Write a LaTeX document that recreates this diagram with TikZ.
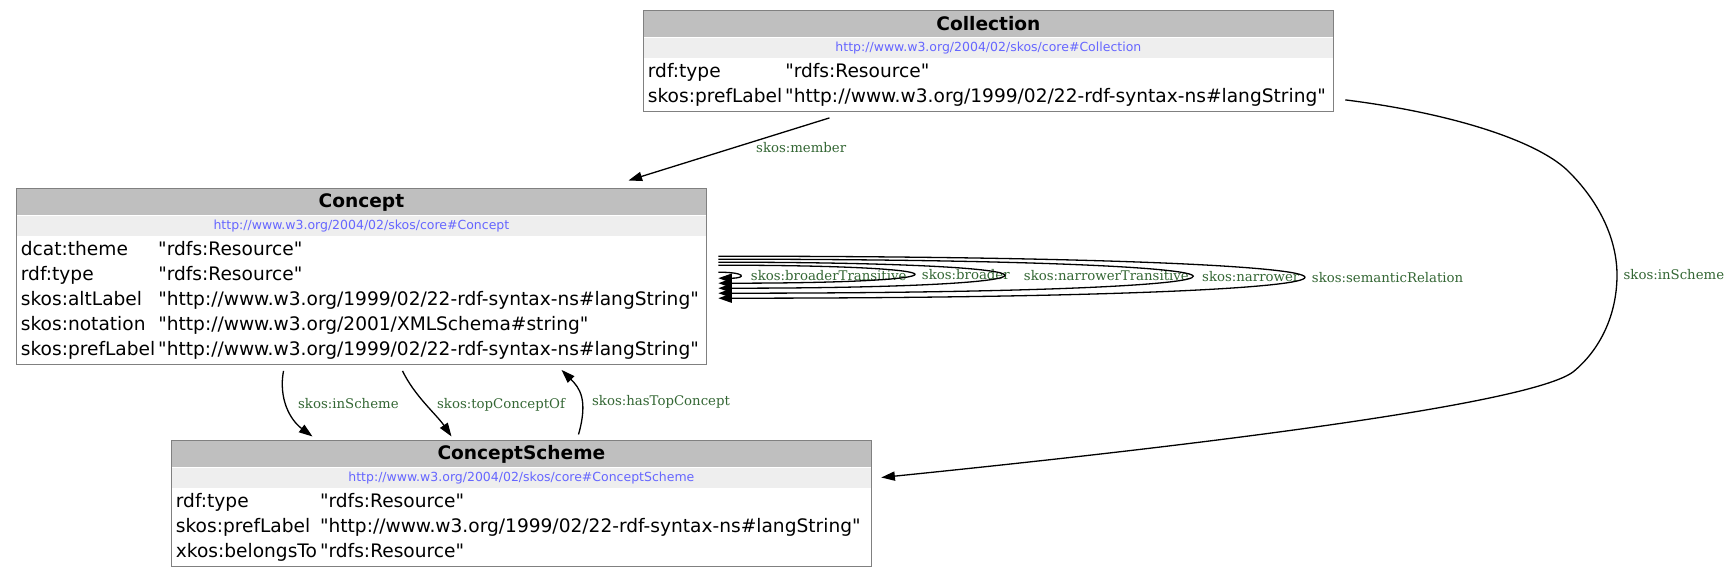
\documentclass[tikz,border=0pt]{standalone}
\usepackage{fontspec}
\setmainfont[Ligatures=TeXOff]{DejaVu Sans}
\newfontfamily\lblfont{DejaVu Serif}
\usepackage{tikz}
\usepackage{xcolor}
\usetikzlibrary{arrows.meta, positioning, fit, calc}
\definecolor{clrHead}{HTML}{BFBFBF}
\definecolor{clrUri}{HTML}{EEEEEE}
\definecolor{clrUriText}{HTML}{6666FF}
\definecolor{clrLabel}{HTML}{336633}
\definecolor{clrFrame}{HTML}{808080}

\begin{document}
\begin{tikzpicture}[
    x=0.5pt, y=-0.5pt,
    head/.style={rectangle, fill=clrHead, minimum height=13pt, inner sep=0pt, anchor=north west, font=\fontsize{9.3}{11}\selectfont\bfseries},
    uri/.style={rectangle, fill=clrUri, minimum height=10pt, inner sep=0pt, anchor=north west, text=clrUriText, font=\fontsize{6.25}{7.5}\selectfont},
    attrs/.style={rectangle, inner xsep=2.25pt, inner ysep=0.625pt, anchor=north west, font=\fontsize{9.3}{12.5}\selectfont},
    classbox/.style={rectangle, draw=clrFrame, line width=0.5pt, inner sep=0pt},
    link/.style={-{Triangle[length=6.8pt, width=4.6pt]}, line width=0.65pt, black},
    elbl/.style={font=\lblfont\fontsize{6.65}{8}\selectfont, text=clrLabel, anchor=west, inner sep=0pt},
]
\useasboundingbox (0,0) rectangle (1736,576);

% Collection
\node[head, minimum width=345pt] (coll-head) at (643,10.5) {Collection};
\node[uri, minimum width=345pt] (coll-uri) at (coll-head.south west) {http://www.w3.org/2004/02/skos/core\#Collection};
\node[attrs] (coll-attrs) at (coll-uri.south west) {\begin{tabular}{@{}l@{\hspace{1.5pt}}l@{}}
rdf:type & "rdfs:Resource"\\
skos:prefLabel & "http://www.w3.org/1999/02/22-rdf-syntax-ns\#langString"
\end{tabular}};
\node[classbox, fit=(coll-head)(coll-attrs)] (coll) {};

% Concept
\node[head, minimum width=345pt] (concept-head) at (16,189) {Concept};
\node[uri, minimum width=345pt] (concept-uri) at (concept-head.south west) {http://www.w3.org/2004/02/skos/core\#Concept};
\node[attrs] (concept-attrs) at (concept-uri.south west) {\begin{tabular}{@{}l@{\hspace{1.5pt}}l@{}}
dcat:theme & "rdfs:Resource"\\
rdf:type & "rdfs:Resource"\\
skos:altLabel & "http://www.w3.org/1999/02/22-rdf-syntax-ns\#langString"\\
skos:notation & "http://www.w3.org/2001/XMLSchema\#string"\\
skos:prefLabel & "http://www.w3.org/1999/02/22-rdf-syntax-ns\#langString"
\end{tabular}};
\node[classbox, fit=(concept-head)(concept-attrs)] (concept) {};

% ConceptScheme
\node[head, minimum width=350pt] (scheme-head) at (171,441) {ConceptScheme};
\node[uri, minimum width=350pt] (scheme-uri) at (scheme-head.south west) {http://www.w3.org/2004/02/skos/core\#ConceptScheme};
\node[attrs] (scheme-attrs) at (scheme-uri.south west) {\begin{tabular}{@{}l@{\hspace{1.5pt}}l@{}}
rdf:type & "rdfs:Resource"\\
skos:prefLabel & "http://www.w3.org/1999/02/22-rdf-syntax-ns\#langString"\\
xkos:belongsTo & "rdfs:Resource"
\end{tabular}};
\node[classbox, fit=(scheme-head)(scheme-attrs)] (scheme) {};

% Collection edges
\draw[link] ($(coll.south west)+(187,6)$) -- node[elbl, pos=0.48, xshift=11.25pt] {skos:member} ($(concept.north west)+(613,-8)$);
\draw[link] ($(coll.south east)+(11,-12)$) .. controls (1450,113) and (1535,140) .. (1567,170)
    .. controls (1600,202) and (1617,240) .. (1617,275) node[elbl, xshift=3pt] {skos:inScheme}
    .. controls (1617,315) and (1600,350) .. (1573,372)
    .. controls (1535,400) and (1280,437) .. ($(scheme.north east)+(9,37)$);

% Concept <-> ConceptScheme
\draw[link] ($(concept.south west)+(268,5.5)$) .. controls +(-5,27) and +(-23,-17) .. ($(scheme.north west)+(142,-4)$) node[elbl, pos=0.5, xshift=5pt, yshift=2pt] {skos:inScheme};
\draw[link] ($(concept.south west)+(387,5.5)$) .. controls +(12,25) and +(-15,-22) .. ($(scheme.north west)+(281,-4)$) node[elbl, pos=0.5, xshift=5.3pt] {skos:topConceptOf};
\draw[link] ($(scheme.north west)+(408,-6)$) .. controls +(10,-35) and +(18,18) .. ($(concept.south west)+(546,4.5)$) node[elbl, pos=0.5, xshift=5.5pt, yshift=-3pt] {skos:hasTopConcept};

% Self loops on Concept
\draw[link] ($(concept.east)+(11,-4.75)$) .. controls +(28,0) and +(28,0) .. ($(concept.east)+(11,1.25)$) node[elbl, pos=0.5, xshift=5.5pt] {skos:broaderTransitive};
\draw[link] ($(concept.east)+(11,-11.75)$) .. controls +(260,0) and +(260,0) .. ($(concept.east)+(11,6.25)$) node[elbl, pos=0.5, xshift=4pt] {skos:broader};
\draw[link] ($(concept.east)+(11,-14.75)$) .. controls +(380,0) and +(380,0) .. ($(concept.east)+(11,11.25)$) node[elbl, pos=0.5, xshift=10pt] {skos:narrowerTransitive};
\draw[link] ($(concept.east)+(11,-17.75)$) .. controls +(631,0) and +(631,0) .. ($(concept.east)+(11,16.25)$) node[elbl, pos=0.5, xshift=5pt] {skos:narrower};
\draw[link] ($(concept.east)+(11,-20.75)$) .. controls +(780,0) and +(780,0) .. ($(concept.east)+(11,21.25)$) node[elbl, pos=0.5, xshift=4pt] {skos:semanticRelation};

\end{tikzpicture}
\end{document}
